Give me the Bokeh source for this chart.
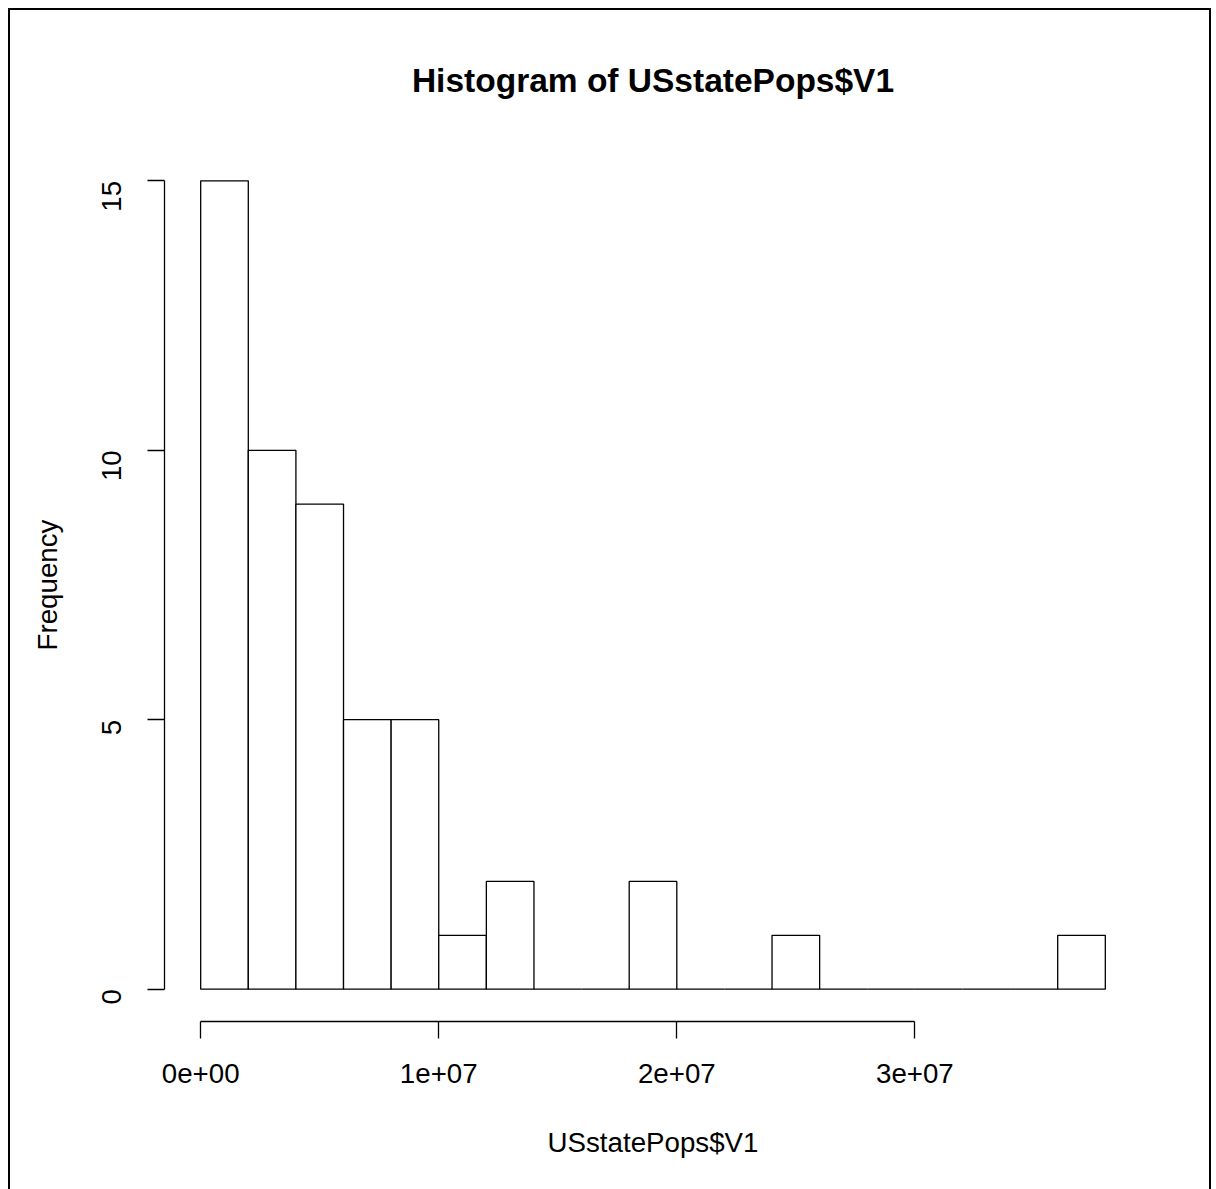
import math
from bokeh.plotting import figure
from bokeh.models import FixedTicker, Title
from bokeh.embed import file_html
from bokeh.resources import INLINE

# ---- data ----
bin_left = [0, 2e6, 4e6, 6e6, 8e6, 10e6, 12e6, 14e6, 16e6, 18e6,
            20e6, 22e6, 24e6, 26e6, 28e6, 30e6, 32e6, 34e6, 36e6]
bin_right = [2e6, 4e6, 6e6, 8e6, 10e6, 12e6, 14e6, 16e6, 18e6, 20e6,
             22e6, 24e6, 26e6, 28e6, 30e6, 32e6, 34e6, 36e6, 38e6]
counts = [15, 10, 9, 5, 5, 1, 2, 0, 0, 2, 0, 0, 1, 0, 0, 0, 0, 0, 1]

x_ticks = [0, 1e7, 2e7, 3e7]
x_tick_labels = ["0e+00", "1e+07", "2e+07", "3e+07"]
y_ticks = [0, 5, 10, 15]
y_tick_labels = ["0", "5", "10", "15"]

title_text = "Histogram of USstatePops$V1"
x_label = "USstatePops$V1"
y_label = "Frequency"

FONT = "Liberation Sans"
FS = "27.7px"

xr = (-1.52e6, 3.952e7)
yr = (-0.6, 15.6)

p = figure(width=1199, height=1179, x_range=xr, y_range=yr,
           output_backend="svg", toolbar_location=None,
           min_border_left=154, min_border_top=138,
           min_border_right=68, min_border_bottom=168,
           frame_width=977, frame_height=873,
           background_fill_color="white", border_fill_color="white")
p.outline_line_color = None
p.grid.visible = False

p.quad(left=bin_left, right=bin_right, top=counts, bottom=0,
       fill_color="white", line_color="black", line_width=1.3)

t = Title(text=title_text, align="center", text_font=FONT,
          text_font_size="33.5px", text_font_style="bold", text_color="black",
          standoff=99)
p.add_layout(t, "above")

# x axis
xa = p.xaxis[0]
xa.ticker = FixedTicker(ticks=x_ticks)
xa.major_label_overrides = {k: v for k, v in zip(x_ticks, x_tick_labels)}
xa.bounds = (x_ticks[0], x_ticks[-1])
xa.axis_label = x_label
xa.minor_tick_line_color = None
xa.major_tick_in = 0
xa.major_tick_out = 17
xa.major_label_standoff = 25
xa.axis_label_standoff = 41
xa.axis_line_width = 1.3
xa.major_tick_line_width = 1.3
xa.major_label_text_font = FONT
xa.major_label_text_font_size = FS
xa.major_label_text_color = "black"
xa.axis_label_text_font = FONT
xa.axis_label_text_font_size = FS
xa.axis_label_text_font_style = "normal"
xa.axis_label_text_color = "black"

# y axis
ya = p.yaxis[0]
ya.ticker = FixedTicker(ticks=y_ticks)
ya.major_label_overrides = {k: v for k, v in zip(y_ticks, y_tick_labels)}
ya.bounds = (y_ticks[0], y_ticks[-1])
ya.axis_label = y_label
ya.minor_tick_line_color = None
ya.major_tick_in = 0
ya.major_tick_out = 17
ya.major_label_standoff = 36
ya.major_label_orientation = math.pi / 2
ya.axis_label_standoff = 27
ya.axis_line_width = 1.3
ya.major_tick_line_width = 1.3
ya.major_label_text_font = FONT
ya.major_label_text_font_size = FS
ya.major_label_text_color = "black"
ya.axis_label_text_font = FONT
ya.axis_label_text_font_size = FS
ya.axis_label_text_font_style = "normal"
ya.axis_label_text_color = "black"

p.styles = {"margin-left": "8px", "margin-top": "8px",
            "border-left": "2px solid black", "border-top": "2px solid black",
            "border-right": "2px solid black"}

open("out.html", "w").write(file_html(p, INLINE))
